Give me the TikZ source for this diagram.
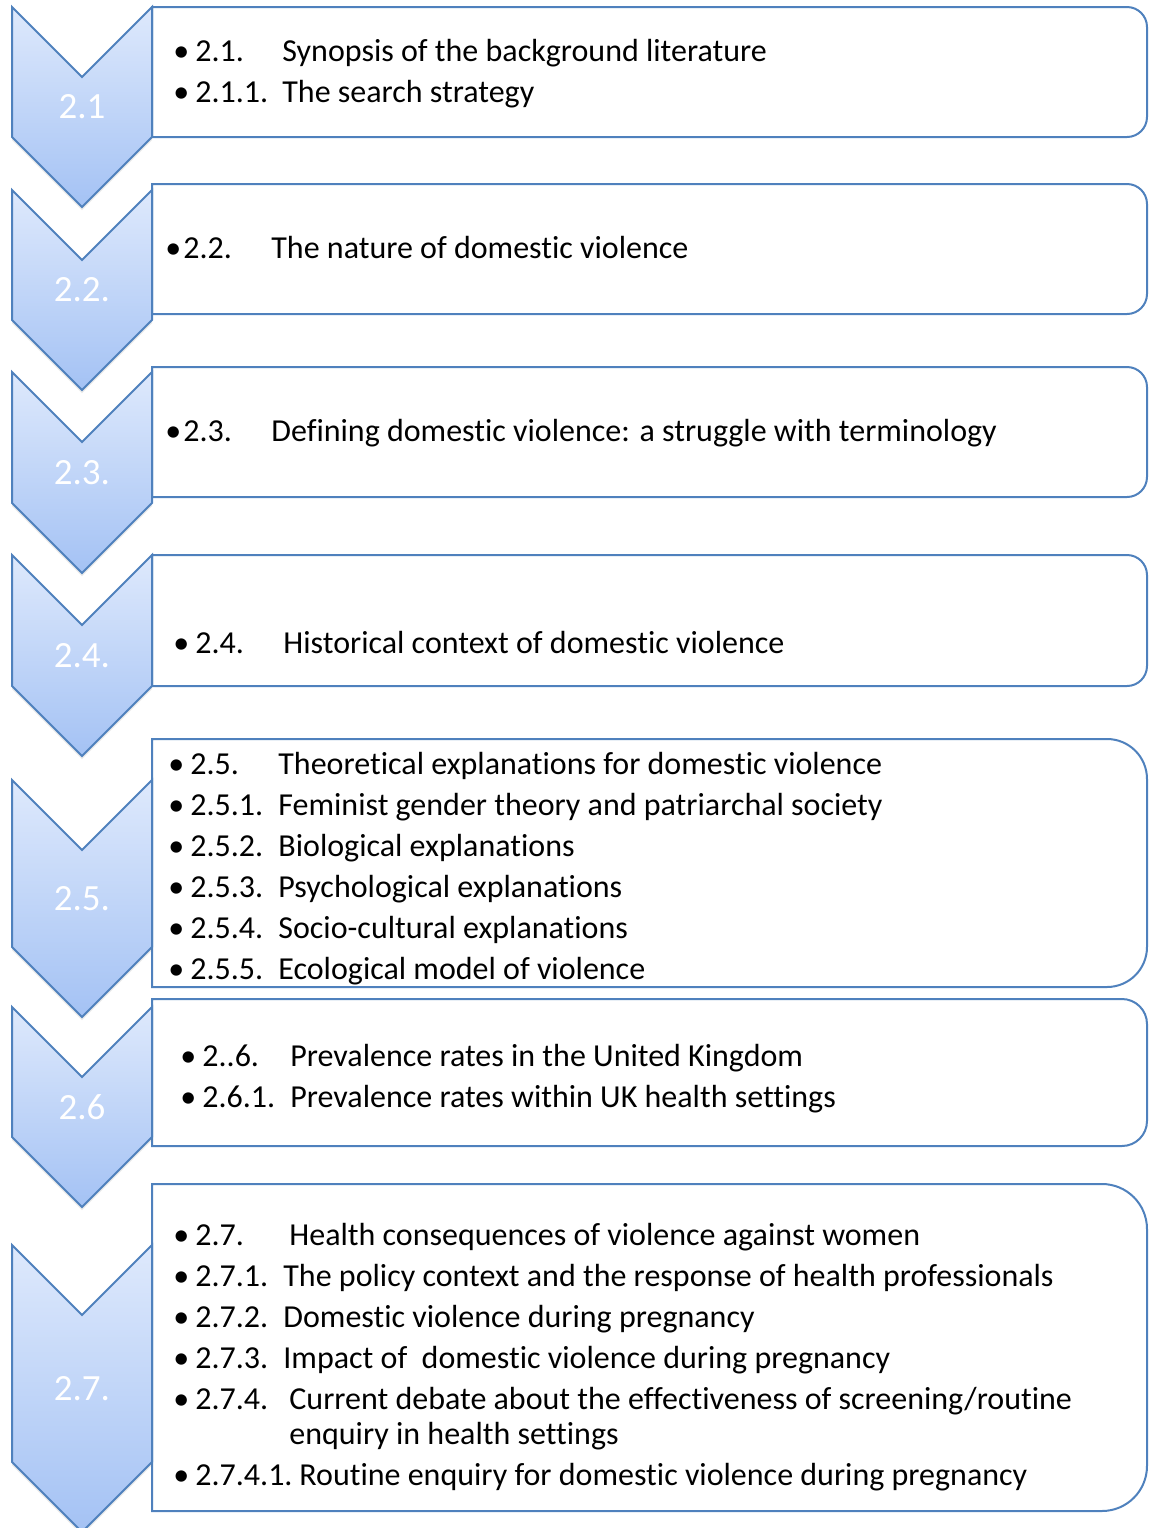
\documentclass[tikz,border=0pt]{standalone}
\usepackage{fontspec}
\setmainfont[Ligatures=NoCommon]{Carlito}
\usepackage{tikz}
\usetikzlibrary{shadows}
\definecolor{tocblue}{RGB}{79,129,189}
\definecolor{chevtop}{RGB}{222,233,252}
\definecolor{chevbot}{RGB}{164,194,244}

\tikzset{
  chevron/.style={draw=tocblue, line width=1pt, top color=chevtop, bottom color=chevbot,
    drop shadow={opacity=0.18, shadow xshift=0pt, shadow yshift=-1.5pt}},
  chevlabel/.style={text=white, inner sep=0pt, font=\fontsize{18.5}{20}\selectfont},
  tocframe/.style={draw=tocblue, line width=1pt, fill=white},
  rowtext/.style={anchor=base west, inner sep=0pt, font=\fontsize{16}{19}\selectfont},
}

% chevron: top, shoulder, name, label
\newcommand{\tocchev}[4]{%
  \draw[chevron] (12,#1) -- (82,{#1+70}) -- (152,#1) -- (152,#2) -- (82,{#2+70}) -- (12,#2) -- cycle;
  \node[chevlabel] (#3) at (82,{(#1+70+#2)/2}) {#4};}
% frame: top, bottom, radius of the right corners
\newcommand{\tocframe}[3]{%
  \draw[tocframe] (152,#1) -- ({1147-#3},#1) arc (-90:0:#3) -- (1147,{#2-#3}) arc (0:90:#3) -- (152,#2) -- cycle;}
% row: name, bullet x, number x, text x, y, number, text
\newcommand{\tocrow}[7]{%
  \node[rowtext] (#1b) at ({#2-5},{#5+10}) {\textbullet};
  \node[rowtext] (#1n) at (#3,{#5+10}) {#6};
  \node[rowtext] (#1t) at (#4,{#5+10}) {#7};}

\begin{document}
\begin{tikzpicture}[x=0.5pt, y=-0.5pt]
  \useasboundingbox (0,0) rectangle (1148,1528);

  % frames
  \tocframe{7}{137}{20}
  \tocframe{184}{314}{20}
  \tocframe{367}{497}{20}
  \tocframe{555}{686}{20}
  \tocframe{739}{987}{40}
  \tocframe{999}{1146}{25}
  \tocframe{1184}{1511}{45}

  % chevrons
  \tocchev{7}{137}{c1}{2.1}
  \tocchev{190}{320}{c2}{2.2.}
  \tocchev{372}{503}{c3}{2.3.}
  \tocchev{555}{686}{c4}{2.4.}
  \tocchev{780}{947}{c5}{2.5.}
  \tocchev{1007}{1137}{c6}{2.6}
  \tocchev{1245}{1462}{c7}{2.7.}

  % 2.1
  \tocrow{r11}{178}{195}{282}{51}{2.1.}{Synopsis of the background literature}
  \tocrow{r12}{178}{195}{282}{92}{2.1.1.}{The search strategy}
  % 2.2 and 2.3
  \tocrow{r21}{170}{183}{271}{248}{2.2.}{The nature of domestic violence}
  \tocrow{r31}{170}{183}{271}{431}{2.3.}{Defining domestic violence: a struggle with terminology}
  % 2.4
  \tocrow{r41}{178}{195}{283}{643}{2.4.}{Historical context of domestic violence}
  % 2.5
  \tocrow{r51}{173}{190}{278}{764}{2.5.}{Theoretical explanations for domestic violence}
  \tocrow{r52}{173}{190}{278}{805}{2.5.1.}{Feminist gender theory and patriarchal society}
  \tocrow{r53}{173}{190}{278}{846}{2.5.2.}{Biological explanations}
  \tocrow{r54}{173}{190}{278}{887}{2.5.3.}{Psychological explanations}
  \tocrow{r55}{173}{190}{278}{928}{2.5.4.}{Socio-cultural explanations}
  \tocrow{r56}{173}{190}{278}{969}{2.5.5.}{Ecological model of violence}
  % 2.6
  \tocrow{r61}{185}{202}{290}{1056}{2..6.}{Prevalence rates in the United Kingdom}
  \tocrow{r62}{185}{202}{290}{1097}{2.6.1.}{Prevalence rates within UK health settings}
  % 2.7
  \tocrow{r71}{178}{195}{289}{1235}{2.7.}{Health consequences of violence against women}
  \tocrow{r72}{178}{195}{283}{1276}{2.7.1.}{The policy context and the response of health professionals}
  \tocrow{r73}{178}{195}{283}{1317}{2.7.2.}{Domestic violence during pregnancy}
  \tocrow{r74}{178}{195}{283}{1358}{2.7.3.}{Impact of\ \ domestic violence during pregnancy}
  \tocrow{r75}{178}{195}{289}{1399}{2.7.4.}{Current debate about the effectiveness of screening/routine}
  \node[rowtext] (r75c) at (289,{1434+10}) {enquiry in health settings};
  \tocrow{r76}{178}{195}{299}{1475}{2.7.4.1.}{Routine enquiry for domestic violence during pregnancy}
\end{tikzpicture}
\end{document}
